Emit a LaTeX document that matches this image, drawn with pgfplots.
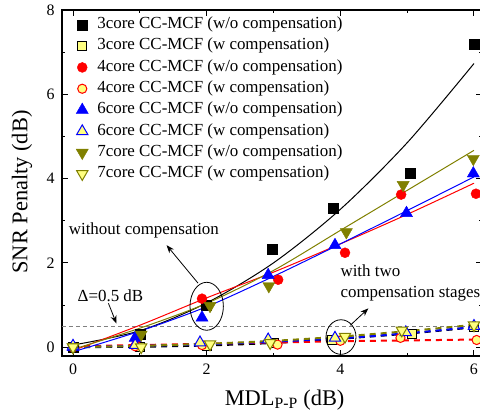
\documentclass[border=0pt]{standalone}
\usepackage{fontspec}
\setmainfont{Liberation Serif}
\usepackage{pgfplots}
\pgfplotsset{compat=1.18}
\usetikzlibrary{arrows.meta,calc}
\definecolor{olivec}{HTML}{808000}
\definecolor{lyellow}{HTML}{FFFF80}

\begin{document}
\begin{tikzpicture}
\begin{axis}[
  scale only axis,
  width=420bp, height=346bp,
  xmin=-0.165, xmax=6.12, ymin=-0.21, ymax=8,
  xtick={0,2,4,6}, minor xtick={1,3,5},
  ytick={0,2,4,6,8}, minor ytick={1,3,5,7},
  tick align=inside,
  major tick length=6bp, minor tick length=3.5bp,
  axis line style={line width=1.2bp},
  every tick/.style={line width=1bp, black},
  ticklabel style={font=\fontsize{16}{18}\selectfont},
  /pgf/number format/assume math mode=true,
  xticklabel style={yshift=-4bp},
  yticklabel style={xshift=-4bp},
  xlabel={MDL\textsubscript{P-P} (dB)},
  ylabel={SNR Penalty (dB)},
  label style={font=\fontsize{22.5}{25}\selectfont},
  xlabel style={at={(axis description cs:0.53,0)}, anchor=center, yshift=-44bp},
  ylabel style={at={(axis description cs:0,0.474)}, anchor=center, yshift=40bp},
  clip=false,
  legend cell align=left,
  legend image code/.code={\draw[mark repeat=2,mark phase=2] plot coordinates {(0bp,0bp) (7bp,0bp) (14bp,0bp)};},
  legend style={draw=none, fill=none, at={(axis description cs:0,1)}, anchor=north west,
    xshift=14bp, yshift=-4bp, inner sep=0pt, row sep=0pt,
    font=\fontsize{17}{20}\selectfont,
    /tikz/column 1/.style={column sep=7bp},
    nodes={inner sep=2bp, text height=12.5bp, text depth=4.8bp}},
]
% 0.5 dB reference line
\addplot[forget plot, gray, line width=0.8bp, dash pattern=on 4bp off 3bp] coordinates {(-0.165,0.5) (6.12,0.5)};

% fits, with compensation (dashed)
\addplot[forget plot, black, line width=2bp, dash pattern=on 6bp off 5bp, smooth] coordinates {
  (0,0) (1,0.01) (2,0.04) (3,0.1) (4,0.2) (5,0.32) (6,0.47)};
\addplot[forget plot, red, line width=2bp, dash pattern=on 6bp off 5bp, smooth] coordinates {
  (0,0.02) (1,0.05) (2,0.08) (3,0.11) (4,0.14) (5,0.16) (6,0.18)};
\addplot[forget plot, blue, line width=2bp, dash pattern=on 6bp off 5bp, smooth] coordinates {
  (0,0) (1,0.03) (2,0.07) (3,0.13) (4,0.21) (5,0.33) (6,0.48)};
\addplot[forget plot, olivec, line width=2bp, dash pattern=on 6bp off 5bp, smooth] coordinates {
  (0,0) (1,0.03) (2,0.08) (3,0.15) (4,0.25) (5,0.38) (6,0.53)};

% fits, without compensation (solid)
\addplot[forget plot, black, line width=1bp, smooth] coordinates {
  (0,0.05) (1,0.39) (2,1.05) (3,2.0) (4,3.27) (5,4.85) (6,6.73)};
\addplot[forget plot, red, line width=1bp, smooth] coordinates {
  (0,-0.08) (1,0.52) (2,1.17) (3,1.78) (4,2.45) (5,3.15) (6,3.89)};
\addplot[forget plot, blue, line width=1bp, smooth] coordinates {
  (0,-0.11) (1,0.38) (2,0.96) (3,1.68) (4,2.45) (5,3.24) (6,4.04)};
\addplot[forget plot, olivec, line width=1bp, smooth] coordinates {
  (0,-0.05) (1,0.45) (2,1.04) (3,1.82) (4,2.77) (5,3.72) (6,4.67)};

% measured points
\addplot[only marks, mark=square*, mark size=5bp, black] coordinates {
  (0,0) (1,0.3) (2,1.0) (2.98,2.32) (3.9,3.3) (5.05,4.13) (6.0,7.2)};
\addlegendentry{3core CC-MCF (w/o compensation)}
\addplot[only marks, mark=square*, mark size=4.5bp, black, mark options={fill=lyellow, line width=0.8bp}] coordinates {
  (0,0) (1,0.0) (2,0.03) (3,0.1) (3.87,0.18) (5.07,0.32) (6,0.47)};
\addlegendentry{3core CC-MCF (w compensation)}
\addplot[only marks, mark=*, mark size=5bp, red] coordinates {
  (0,0) (0.95,0.2) (1.93,1.15) (3.07,1.6) (4.07,2.24) (4.91,3.62) (6.03,3.64)};
\addlegendentry{4core CC-MCF (w/o compensation)}
\addplot[only marks, mark=*, mark size=4.6bp, red, mark options={fill=lyellow, line width=1bp}] coordinates {
  (0,0) (0.93,0.02) (1.93,0.05) (3.06,0.06) (4.0,0.15) (4.9,0.22) (6.04,0.17)};
\addlegendentry{4core CC-MCF (w compensation)}
\addplot[only marks, mark=triangle*, mark size=7bp, blue] coordinates {
  (0,0) (0.93,0.22) (1.93,0.7) (2.92,1.71) (3.92,2.42) (4.99,3.18) (5.99,4.12)};
\addlegendentry{6core CC-MCF (w/o compensation)}
\addplot[only marks, mark=triangle*, mark size=6.5bp, blue, mark options={fill=lyellow, line width=1bp}] coordinates {
  (0,0.03) (0.93,0.05) (1.9,0.11) (2.92,0.18) (3.92,0.22) (4.98,0.35) (6.0,0.5)};
\addlegendentry{6core CC-MCF (w compensation)}
\addplot[only marks, mark=triangle*, mark size=7bp, olivec, mark options={rotate=180}] coordinates {
  (0,0) (1.02,0.3) (2.05,0.98) (2.93,1.45) (4.09,2.73) (4.94,3.85) (5.99,4.47)};
\addlegendentry{7core CC-MCF (w/o compensation)}
\addplot[only marks, mark=triangle*, mark size=6.5bp, olivec, mark options={rotate=180, fill=lyellow, line width=1bp}] coordinates {
  (0,0) (1.02,0.0) (2.05,0.07) (2.95,0.1) (4.07,0.25) (4.92,0.4) (6.0,0.52)};
\addlegendentry{7core CC-MCF (w compensation)}

% annotations
\draw[line width=0.8bp] (axis cs:2,0.97) ellipse [x radius=16.7bp, y radius=24bp];
\draw[line width=0.8bp] (axis cs:4.01,0.24) ellipse [x radius=15bp, y radius=17.3bp];
\draw[line width=0.8bp, -{Stealth[length=8bp,width=6bp]}] (axis cs:1.87,1.52) -- (axis cs:1.40,2.42);
\draw[line width=0.8bp, -{Stealth[length=8bp,width=6bp]}] (axis cs:4.15,0.52) -- (axis cs:4.42,0.92);
\draw[line width=0.8bp, -{Stealth[length=8bp,width=6bp]}] (axis cs:0.53,1.04) -- (axis cs:0.65,0.56);
\node[font=\fontsize{17}{21}\selectfont] at (axis cs:1.06,2.77) {without compensation};
\node[font=\fontsize{17}{21}\selectfont] at (axis cs:0.56,1.23) {Δ=0.5 dB};
\node[font=\fontsize{17}{21}\selectfont, anchor=west, align=left, inner sep=0pt] at (axis cs:4.0,1.53) {with two\\compensation stages};
\end{axis}
\pgfresetboundingbox
\path ($(current axis.south west)+(-62bp,-60bp)$) rectangle ($(current axis.south west)+(418bp,356bp)$);
\end{tikzpicture}
\end{document}
